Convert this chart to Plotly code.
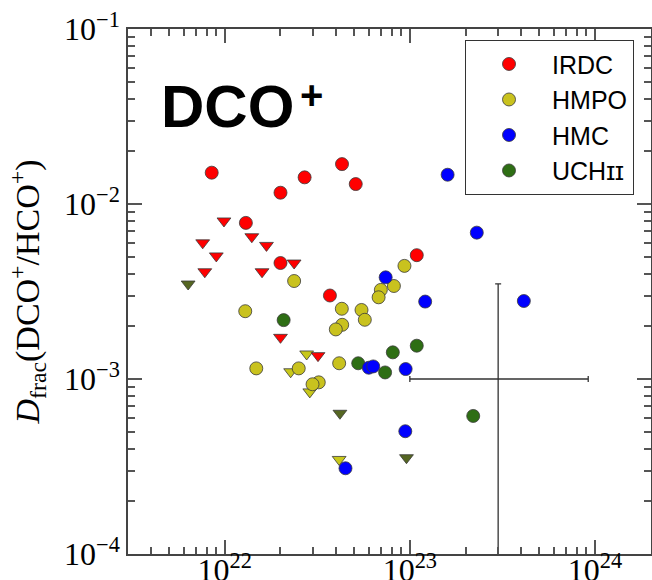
import numpy as np
import plotly.graph_objects as go

# Column density N(H2) [cm^-2] and deuterium fraction D_frac(DCO+/HCO+)
irdc_x = [8.5e21, 2.0e22, 2.7e22, 4.3e22, 5.1e22, 1.3e22, 2.0e22, 1.09e23, 3.7e22]
irdc_y = [1.51e-2, 1.16e-2, 1.42e-2, 1.69e-2, 1.30e-2, 7.8e-3, 4.6e-3, 5.1e-3, 3.0e-3]
# upper limits
irdc_ul_x = [9.9e21, 7.6e21, 1.4e22, 1.68e22, 9.0e21, 2.37e22, 7.8e21, 1.59e22, 2.0e22, 3.19e22]
irdc_ul_y = [8.0e-3, 6.0e-3, 6.5e-3, 5.8e-3, 5.05e-3, 4.6e-3, 4.1e-3, 4.1e-3, 1.73e-3, 1.36e-3]

hmpo_x = [2.37e22, 9.35e22, 6.97e22, 8.2e22, 6.78e22, 1.29e22, 4.29e22, 5.48e22,
          5.71e22, 4.31e22, 3.98e22, 1.48e22, 2.51e22, 4.15e22, 3.22e22, 2.98e22]
hmpo_y = [3.63e-3, 4.43e-3, 3.23e-3, 3.40e-3, 2.93e-3, 2.44e-3, 2.52e-3, 2.48e-3,
          2.18e-3, 2.04e-3, 1.92e-3, 1.15e-3, 1.15e-3, 1.23e-3, 9.57e-4, 9.33e-4]
hmpo_ul_x = [2.77e22, 2.27e22, 2.88e22, 4.15e22]
hmpo_ul_y = [1.39e-3, 1.10e-3, 8.44e-4, 3.47e-4]

hmc_x = [1.60e23, 2.30e23, 7.4e22, 1.21e23, 4.13e23, 6.0e22, 6.34e22, 9.49e22, 9.45e22, 4.49e22]
hmc_y = [1.47e-2, 6.86e-3, 3.81e-3, 2.77e-3, 2.79e-3, 1.16e-3, 1.18e-3, 1.14e-3, 5.03e-4, 3.09e-4]

uch_x = [2.08e22, 5.26e22, 7.35e22, 8.09e22, 1.09e23, 2.20e23]
uch_y = [2.17e-3, 1.23e-3, 1.09e-3, 1.42e-3, 1.55e-3, 6.15e-4]
uch_ul_x = [6.34e21, 4.19e22, 9.59e22]
uch_ul_y = [3.49e-3, 6.37e-4, 3.55e-4]

# representative uncertainty
err_x, err_y = [3.0e23], [1.0e-3]
err_x_plus, err_x_minus = [6.2e23], [2.0e23]
err_y_sym = [2.5e-3]

# "UCHII" with small-capital roman numeral
names = ["IRDC", "HMPO", "HMC", "UCH\u026a\u026a"]
colors = {"IRDC": "#ff0000", "HMPO": "#c9c21e", "HMC": "#0000ff", "UCH": "#2e6e14"}
ul_colors = {"IRDC": "#ff0000", "HMPO": "#c8c81a", "UCH": "#556622"}

edge = dict(color="#3a3a3a", width=0.8)
MS = 13
TICK_COLOR = "#555555"
LINE_COLOR = "#444444"

fig = go.Figure()


def add(x, y, color, symbol, name=None, rank=None, size=MS):
    fig.add_trace(go.Scatter(
        x=x, y=y, mode="markers",
        marker=dict(color=color, symbol=symbol, size=size, line=edge),
        name=name if name else "", showlegend=name is not None,
        legendrank=rank if rank else 1000,
    ))


add(hmpo_ul_x, hmpo_ul_y, ul_colors["HMPO"], "triangle-down", size=12)
add(hmpo_x, hmpo_y, colors["HMPO"], "circle", names[1], 2)
add(irdc_ul_x, irdc_ul_y, ul_colors["IRDC"], "triangle-down", size=12)
add(irdc_x, irdc_y, colors["IRDC"], "circle", names[0], 1)
add(uch_x, uch_y, colors["UCH"], "circle", names[3], 4)
add(hmc_x, hmc_y, colors["HMC"], "circle", names[2], 3)
add(uch_ul_x, uch_ul_y, ul_colors["UCH"], "triangle-down", size=12)

fig.add_trace(go.Scatter(
    x=err_x, y=err_y, mode="markers",
    marker=dict(size=1, color="#333333"), showlegend=False,
    error_x=dict(type="data", array=err_x_plus, arrayminus=err_x_minus,
                 color="#333333", thickness=1.3, width=3),
    error_y=dict(type="data", array=err_y_sym, symmetric=True,
                 color="#333333", thickness=1.3, width=3),
))

x_range = [np.log10(3.0e21), 24.303]
y_range = [-4, -1]
x_major = [1e22, 1e23, 1e24]
x_minor = [m * 10.0 ** e for e in (21, 22, 23, 24) for m in range(2, 10)]
y_major = [1e-4, 1e-3, 1e-2, 1e-1]
y_minor = [m * 10.0 ** e for e in (-5, -4, -3, -2) for m in range(2, 10)]

# invisible carrier trace for the minor-tick overlay axes
fig.add_trace(go.Scatter(x=[1e22], y=[1e-3], xaxis="x2", yaxis="y2", mode="markers",
                         marker=dict(opacity=0), showlegend=False, hoverinfo="skip"))

tick_font = dict(family="Liberation Serif", size=32, color="black")
axis_common = dict(
    type="log", showgrid=False, zeroline=False, automargin=False,
    showline=True, linecolor=LINE_COLOR, linewidth=1.5, mirror="ticks",
    ticks="inside", ticklen=14, tickwidth=1.5, tickcolor=TICK_COLOR,
    tickfont=tick_font,
)
minor_common = dict(
    type="log", showgrid=False, zeroline=False, automargin=False,
    showline=False, showticklabels=False, mirror="ticks",
    ticks="inside", ticklen=7, tickwidth=1.5, tickcolor=TICK_COLOR,
    tickmode="array",
)

fig.update_layout(
    xaxis=dict(
        **axis_common, range=x_range,
        tickmode="array", tickvals=x_major,
        ticktext=["10<sup>22</sup>", "10<sup>23</sup>", "10<sup>24</sup>"],
        ticklabelstandoff=-13,
    ),
    yaxis=dict(
        **axis_common, range=y_range,
        tickmode="array", tickvals=y_major,
        ticktext=["10<sup>−4</sup>", "10<sup>−3</sup>", "10<sup>−2</sup>", "10<sup>−1</sup>"],
        title=dict(text="<i>D</i><sub>frac</sub>(DCO<sup>+</sup>/HCO<sup>+</sup>)",
                   font=dict(family="Liberation Serif", size=34, color="black"),
                   standoff=14),
    ),
    xaxis2=dict(**minor_common, overlaying="x", anchor="y", side="bottom",
                range=x_range, tickvals=x_minor),
    yaxis2=dict(**minor_common, overlaying="y", anchor="x", side="left",
                range=y_range, tickvals=y_minor),
)

fig.add_annotation(
    text="<b>DCO</b>", xref="paper", yref="paper",
    x=0.06, y=0.853, xanchor="left", yanchor="middle", showarrow=False,
    font=dict(family="Liberation Sans", size=60, color="black"),
)
fig.add_annotation(
    text="<b>+</b>", xref="paper", yref="paper",
    x=0.35, y=0.874, xanchor="center", yanchor="middle", showarrow=False,
    font=dict(family="Liberation Sans", size=40, color="black"),
)

fig.update_layout(
    width=652, height=580,
    margin=dict(l=128, r=1, t=29, b=26),
    paper_bgcolor="white", plot_bgcolor="white",
    showlegend=True,
    legend=dict(
        x=0.644, y=0.979, xanchor="left", yanchor="top",
        bgcolor="white", bordercolor="#333333", borderwidth=1.2,
        font=dict(family="Liberation Sans", size=25, color="black"),
        itemwidth=76,
    ),
)

fig.write_html("out.html")
